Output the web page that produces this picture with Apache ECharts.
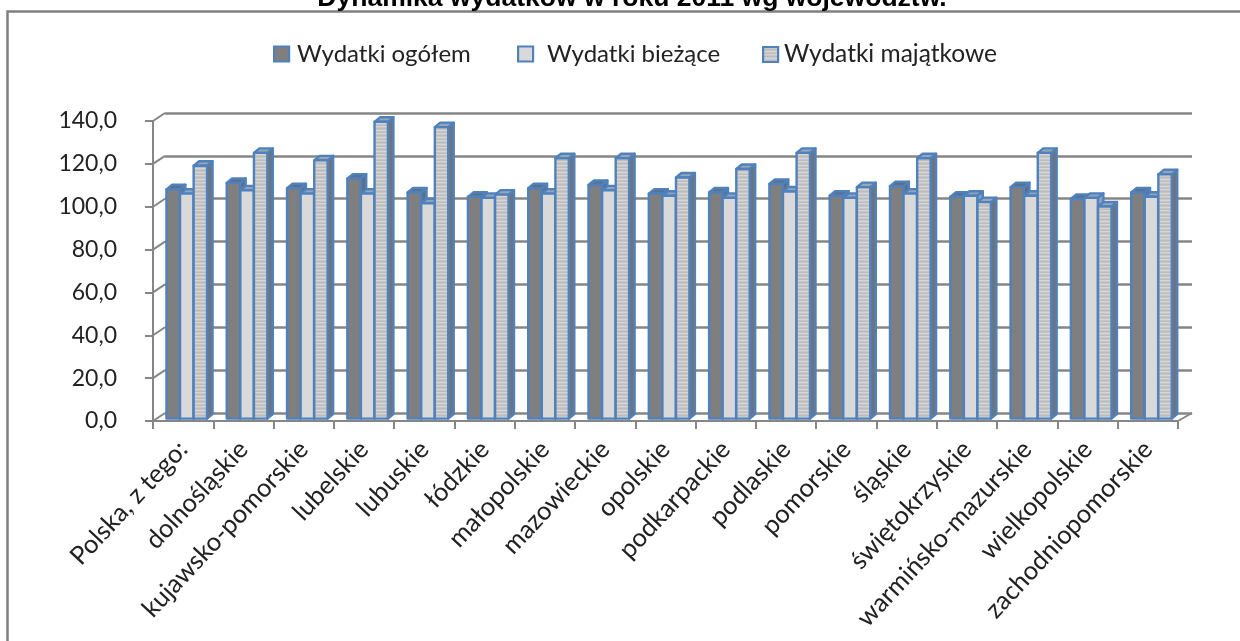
<!DOCTYPE html>
<html><head><meta charset="utf-8">
<style>html,body{margin:0;padding:0;background:#fff;overflow:hidden}#c{width:1240px;height:641px;filter:blur(0.6px)}</style>
<script src="https://cdn.jsdelivr.net/npm/echarts@6/dist/echarts.min.js"></script>
</head><body><div id="c"></div>
<script>
const chartTitle = 'Dynamika wydatków w roku 2011 wg województw.';
const categories = ['Polska, z tego:','dolnośląskie','kujawsko-pomorskie','lubelskie','lubuskie','łódzkie','małopolskie','mazowieckie','opolskie','podkarpackie','podlaskie','pomorskie','śląskie','świętokrzyskie','warmińsko-mazurskie','wielkopolskie','zachodniopomorskie'];
const seriesNames = ['Wydatki ogółem','Wydatki bieżące','Wydatki majątkowe'];
const wydatkiOgolem = [107,110,107.5,112,105.5,103.5,107.5,109,105,105.5,109.5,104,108.5,103.5,108,102.5,105.5];
const wydatkiBiezace = [105,106.5,105,105,100.5,103,105,106.5,104,103,106,103,105,104,104,103,103.5];
const wydatkiMajatkowe = [118,124,120.5,138.5,136,104.5,121.5,121.5,112.5,116.5,124,108,121.5,101,124,99,114];
const yTicks = [0,20,40,60,80,100,120,140];

const stripes = document.createElement('canvas');
stripes.width = 8; stripes.height = 7;
(function(){
  const g = stripes.getContext('2d');
  g.fillStyle = '#c6c6c6'; g.fillRect(0,0,8,7);
  g.fillStyle = '#d6d6d6'; g.fillRect(0,0,8,1); g.fillRect(0,4,8,1);
  g.fillStyle = '#bcbcbc'; g.fillRect(0,2,8,1); g.fillRect(0,6,8,1);
})();
const pattern = {image: stripes, repeat: 'repeat'};
const blue = '#4f81bd', gray = '#868686';
const looks = [
  {front:'#7f7f7f', top:'#5b6f88', side:'#5c6f88'},
  {front:'#d9d9d9', top:'#8ea3bd', side:'#8ea3bd'},
  {front:pattern,   top:'#9aa6b4', side:'#6f747c'}
];
const barW = 13.4, shiftX = 3.6, shiftY = -2.4, depthX = 5.5, depthY = 4.5;

function barSeries(name, values, idx){
  return {
    name, type:'custom', xAxisIndex:0, yAxisIndex:0, z:3+idx,
    data: values.map((v,i)=>[i,v]),
    clip:false,
    renderItem(params, api){
      const top = api.coord([api.value(0), api.value(1)]);
      const base = api.coord([api.value(0), 0]);
      const x = top[0] + shiftX + (idx-1.5)*barW + (idx-1)*0.2;
      const y = top[1] + shiftY, y0 = base[1] + shiftY, w = barW;
      const l = looks[idx];
      const s = {stroke:blue, lineWidth:2.4, lineJoin:'round'};
      return {type:'group', children:[
        {type:'polygon', shape:{points:[[x+w,y],[x+w+depthX,y-depthY],[x+w+depthX,y0-depthY],[x+w,y0]]}, style:Object.assign({fill:l.side},s)},
        {type:'polygon', shape:{points:[[x,y],[x+depthX,y-depthY],[x+w+depthX,y-depthY],[x+w,y]]}, style:Object.assign({fill:l.top},s)},
        {type:'rect', shape:{x,y,width:w,height:y0-y}, style:Object.assign({fill:l.front},s)}
      ]};
    }
  };
}
const legendAt = [[268,3],[512,9],[757,1]];
const legends = seriesNames.map((n,i)=>({
  left: legendAt[i][0], top: 37, selectedMode:false, itemWidth:15, itemHeight:15,
  data:[{name:n, icon:'rect', itemStyle:{color:looks[i].front, borderColor:blue, borderWidth:2.2}}],
  textStyle:{fontFamily:'Lato', fontSize:i===2?24.5:24, color:'#222', padding:[0,0,0,legendAt[i][1]]}
}));

const chart = echarts.init(document.getElementById('c'), null, {renderer:'canvas'});
chart.setOption({
  backgroundColor:'#fff',
  animation:false,
  title:{text:chartTitle, left:627, textAlign:'center', top:-20, textStyle:{fontFamily:'Liberation Sans', fontWeight:'bold', fontSize:26.5, color:'#000'}},
  legend:legends,
  graphic:[{type:'rect', z:-10, silent:true, shape:{x:7.5,y:11.5,width:1400,height:800}, style:{fill:'#fff',stroke:'#808080',lineWidth:2.5}}],
  grid:[
    {left:153, width:1025, top:121, height:300},
    {left:165, width:1027, top:113, height:300}
  ],
  xAxis:[
    {type:'category', gridIndex:0, data:categories, boundaryGap:true,
      axisLine:{show:true, lineStyle:{color:gray, width:2}},
      axisTick:{show:true, alignWithLabel:false, length:8, lineStyle:{color:gray, width:2}},
      axisLabel:{interval:0, rotate:47, margin:24, fontFamily:'Lato', fontSize:25.5, color:'#222'}},
    {type:'category', gridIndex:1, data:categories, show:false}
  ],
  yAxis:[
    {type:'value', gridIndex:0, min:0, max:140, interval:20,
      axisLine:{show:true, lineStyle:{color:gray, width:2}},
      axisTick:{show:true, length:8, lineStyle:{color:gray, width:2}},
      splitLine:{show:false},
      axisLabel:{margin:36, fontFamily:'Lato', fontSize:23, color:'#222',
        formatter:v=>v.toFixed(1).replace('.',',')}},
    {type:'value', gridIndex:1, min:0, max:140, interval:20,
      axisLine:{show:false}, axisTick:{show:false}, axisLabel:{show:false},
      splitLine:{show:true, lineStyle:{color:gray, width:2.5}}}
  ],
  series:[
    {type:'custom', xAxisIndex:0, yAxisIndex:0, z:1, clip:false, silent:true, legendHoverLink:false,
      data:yTicks.map(v=>[0,v]),
      renderItem(params, api){
        const p = api.coord([0, api.value(1)]);
        const band = api.size([1,0])[0];
        const x = p[0]-band/2, s = {stroke:gray, lineWidth:2, fill:null};
        const kids = [{type:'line', shape:{x1:x,y1:p[1],x2:x+12,y2:p[1]-8}, style:s}];
        if(api.value(1)===0){
          const xr = x + band*categories.length;
          kids.push({type:'line', shape:{x1:xr,y1:p[1],x2:xr+14,y2:p[1]-8}, style:s});
        }
        return {type:'group', children:kids};
      }},
    barSeries(seriesNames[0], wydatkiOgolem, 0),
    barSeries(seriesNames[1], wydatkiBiezace, 1),
    barSeries(seriesNames[2], wydatkiMajatkowe, 2)
  ]
});
</script></body></html>
